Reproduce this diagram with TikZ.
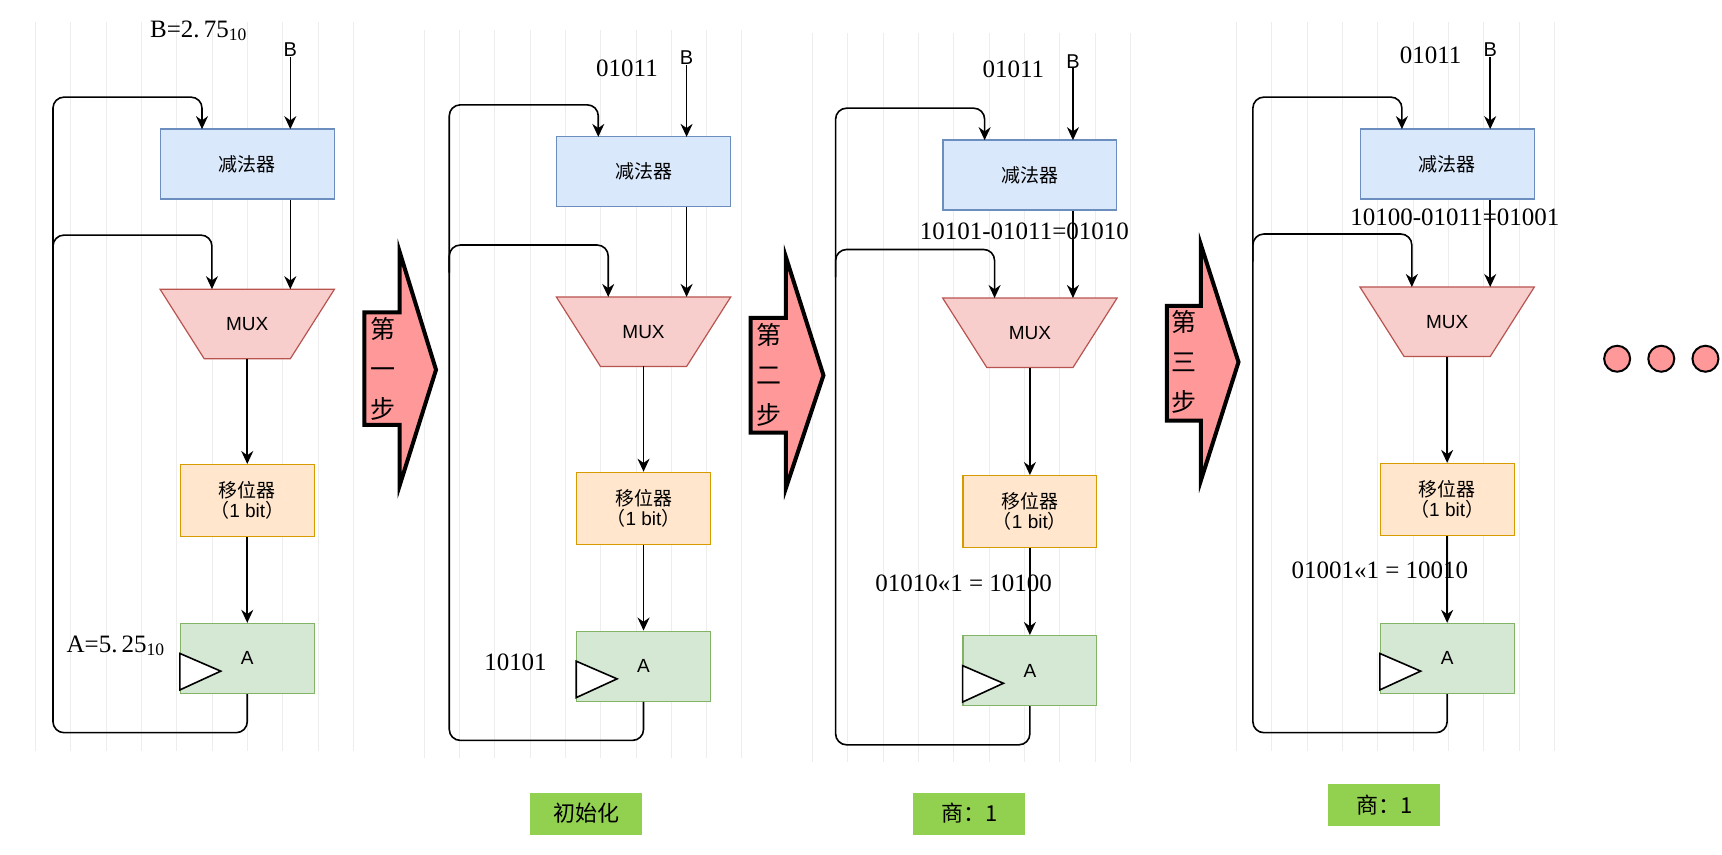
\documentclass[tikz,border=0pt]{standalone}
\usepackage{fontspec}
\setmainfont{Liberation Serif}
\newfontfamily\sans{Liberation Sans}
\newfontfamily\cjk{Noto Sans CJK SC}
\usetikzlibrary{arrows.meta}
\definecolor{subF}{HTML}{DAE8FC}\definecolor{subD}{HTML}{6C8EBF}
\definecolor{muxF}{HTML}{F8CECC}\definecolor{muxD}{HTML}{B85450}
\definecolor{shfF}{HTML}{FFE6CC}\definecolor{shfD}{HTML}{D79B00}
\definecolor{regF}{HTML}{D5E8D4}\definecolor{regD}{HTML}{82B366}
\definecolor{stepF}{HTML}{FF9999}\definecolor{tagF}{HTML}{92D050}
\tikzset{
  blk/.style={draw, line width=0.6pt, font=\sans\fontsize{9.5}{11}\selectfont, align=center, inner sep=0pt},
  wire/.style={line width=0.8pt, -{Stealth[length=6.5pt,width=6pt]}},
  lp/.style={line width=0.8pt, rounded corners=5.5pt},
  val/.style={font=\fontsize{12.5}{14}\selectfont, inner sep=0pt},
  grd/.style={draw=gray!14, line width=0.3pt},
  stp/.style={draw, fill=stepF, line width=2pt, line join=miter},
  tag/.style={fill=tagF, minimum width=56pt, minimum height=21pt, font=\cjk\fontsize{11}{13}\selectfont}
}
% #1 prefix, #2 box left x, #3 box top, #4 mux top, #5 shifter top, #6 A top, #7 loop top, #8 branch y
\newcommand\divpanel[8]{
  \draw[grd, step=32] (#2-130,#3-97) grid (#2+185,#3+563);
  \node[blk, fill=subF, draw=subD, minimum width=87pt, minimum height=35pt] (#1sub) at (#2+79,#3+31.5) {\cjk 减法器};
  \draw[fill=muxF, draw=muxD, line width=0.6pt] (#2,#4) -- (#2+158,#4) -- (#2+118,#4+63) -- (#2+40,#4+63) -- cycle;
  \node[font=\sans\fontsize{9.5}{11}\selectfont, inner sep=0pt] (#1mux) at (#2+79,#4+31.5) {MUX};
  \coordinate (#1muxt) at (#2+118,#4);
  \coordinate (#1muxb) at (#2+79,#4+63);
  \coordinate (#1in2) at (#2+47,#4);
  \node[blk, fill=shfF, draw=shfD, minimum width=67pt, minimum height=36pt] (#1shf) at (#2+79,#5+32.5) {{\cjk 移位器}\\[-1pt]{\cjk（}1 bit{\cjk）}};
  \node[blk, fill=regF, draw=regD, minimum width=67pt, minimum height=35pt] (#1A) at (#2+79,#6+31.5) {A};
  \draw[line width=0.8pt, fill=white] (#2+18,#6+27) -- (#2+55,#6+43) -- (#2+18,#6+60) -- cycle;
  \coordinate (#1bin) at (#2+118,#3-65);
  \coordinate (#1bt) at (#2+118,#3);
  \coordinate (#1in1) at (#2+38,#3);
  \coordinate (#1j) at (#2-97,#8+25);
  \node[font=\sans\fontsize{10}{12}\selectfont, inner sep=0pt, anchor=south] at (#1bin) {B};
  \draw[wire] (#1bin) -- (#1bt);
  \draw[wire] (#1sub.south -| #1muxt) -- (#1muxt);
  \draw[wire] (#1muxb) -- (#1shf.north);
  \draw[wire] (#1shf.south) -- (#1A.north);
  \draw[lp, wire] (#1A.south) -- ++(0,35) -| (#2-97,#7) -| (#1in1);
  \draw[lp, wire] (#1j) |- (#2+47,#8) -- (#1in2);
}
\begin{document}
\begin{tikzpicture}[x=0.552pt, y=-0.552pt]
\useasboundingbox (0,0) rectangle (1560,774);
\divpanel{a}{145}{117}{262}{421}{565}{88}{213}
\divpanel{b}{504}{124}{269}{428}{572}{95}{222}
\divpanel{c}{854}{127}{270}{431}{576}{98}{226}
\divpanel{d}{1232}{117}{260}{420}{565}{88}{212}
% values
\node[val] (va1) at (180,28) {B=2.\,75$_{\mathrm{10}}$};
\node[val] (va2) at (105,585) {A=5.\,25$_{\mathrm{10}}$};
\node[val] (vb1) at (568,62) {01011};
\node[val] (vb2) at (467,600) {10101};
\node[val] (vc1) at (918,63) {01011};
\node[val] (vc2) at (928,210) {10101-01011=01010};
\node[val] (vc3) at (873,528) {01010<<1 = 10100};
\node[val] (vd1) at (1296,50) {01011};
\node[val] (vd2) at (1318,197) {10100-01011=01001};
\node[val] (vd3) at (1250,517) {01001<<1 = 10010};
% step arrows
\draw[stp] (330,283) -- (362,283) -- (362,228) -- (395,335) -- (362,440) -- (362,385) -- (330,385) -- cycle;
\node[font=\cjk\fontsize{12.5}{20}\selectfont, align=center] (s1) at (347,334) {第\\一\\步};
\draw[stp] (680,288) -- (712,288) -- (712,233) -- (746,340) -- (712,442) -- (712,392) -- (680,392) -- cycle;
\node[font=\cjk\fontsize{12.5}{20}\selectfont, align=center] (s2) at (697,340) {第\\二\\步};
\draw[stp] (1057,277) -- (1088,277) -- (1088,222) -- (1122,328) -- (1088,435) -- (1088,381) -- (1057,381) -- cycle;
\node[font=\cjk\fontsize{12.5}{20}\selectfont, align=center] (s3) at (1073,328) {第\\三\\步};
% dots
\foreach \x/\n in {1465/d1,1505/d2,1545/d3}
  \node[circle, draw, fill=stepF, line width=1pt, minimum size=13pt, inner sep=0pt] (\n) at (\x,325) {};
% tags
\node[tag] (t1) at (531,737) {初始化};
\node[tag] (t2) at (878,737) {商：1};
\node[tag] (t3) at (1254,729) {商：1};
\end{tikzpicture}
\end{document}
